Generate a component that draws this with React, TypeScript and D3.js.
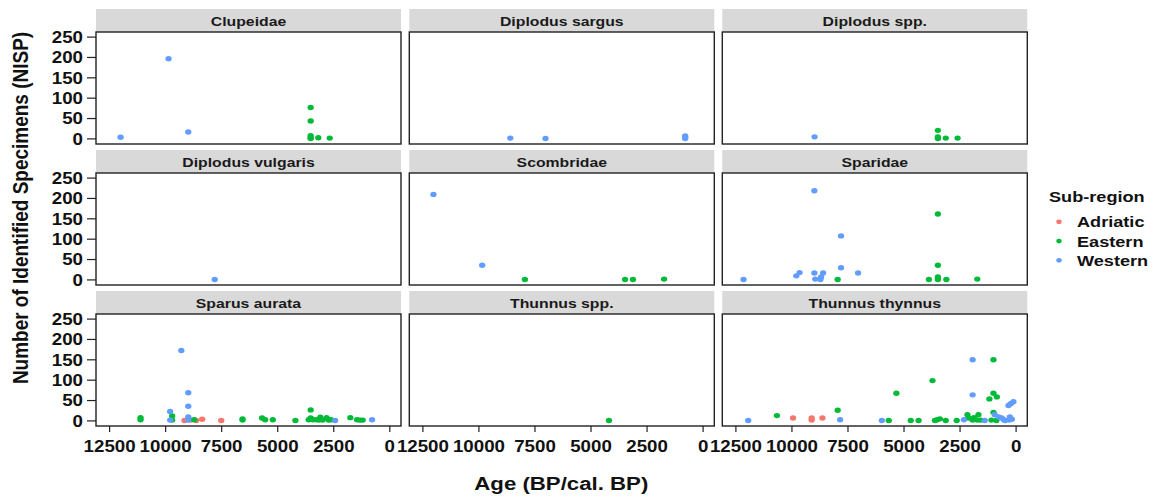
import React from 'react';
import * as d3 from 'd3';

// horizontal stretch of the reference picture
const S = 1.17;

const regions = ['Adriatic', 'Eastern', 'Western'];
const regionColors = ['#F8766D', '#00BA38', '#619CFF'];
const xTicks = [12500, 10000, 7500, 5000, 2500, 0];
const yTicks = [0, 50, 100, 150, 200, 250];

type P = [number, number]; // [age BP, NISP]

const clupeidaeWestern: P[] = [[12010, 4], [9870, 197], [8990, 17]];
const clupeidaeEastern: P[] = [[3530, 77], [3530, 44], [3530, 8], [3530, 3], [3530, 1], [3190, 3], [2680, 2]];

const sargusWestern: P[] = [[8600, 2], [7030, 1], [800, 7], [800, 4], [800, 1]];

const diplodusSppWestern: P[] = [[8990, 5]];
const diplodusSppEastern: P[] = [[3490, 21], [3490, 5], [3490, 1], [3140, 2], [2610, 2]];

const vulgarisWestern: P[] = [[7810, 1]];

const scombridaeWestern: P[] = [[12030, 210], [9855, 36]];
const scombridaeEastern: P[] = [[7950, 1], [3480, 1], [3130, 1], [1740, 2]];

const sparidaeWestern: P[] = [[12160, 1], [9805, 10], [9660, 18], [9000, 219], [9000, 17], [8960, 2], [8700, 7], [8610, 17], [8730, 1], [7810, 108], [7810, 30], [7050, 17]];
const sparidaeEastern: P[] = [[7960, 1], [3490, 162], [3490, 36], [3490, 7], [3490, 1], [3890, 1], [3110, 1], [1730, 2]];

const aurataAdriatic: P[] = [[9160, 1], [8890, 2], [8640, 1], [8370, 4], [7520, 1]];
const aurataEastern: P[] = [[11120, 8], [11120, 3], [9710, 12], [9710, 2], [8730, 3], [6570, 5], [6570, 2], [5700, 7], [5560, 3], [5220, 3], [4210, 1], [3530, 27], [3620, 3], [3440, 3], [3530, 7], [3290, 3], [3170, 2], [3100, 9], [3000, 2], [2820, 8], [2730, 2], [2620, 3], [1760, 8], [1460, 3], [1330, 2], [1210, 2]];
const aurataWestern: P[] = [[9800, 23], [9800, 2], [9300, 173], [8990, 69], [8990, 36], [8990, 10], [8990, 2], [2440, 1], [790, 3]];

const thunnusSppEastern: P[] = [[4200, 1]];

const thynnusAdriatic: P[] = [[9950, 7], [9120, 7], [9120, 2], [8640, 7]];
const thynnusEastern: P[] = [[10670, 13], [7960, 26], [5680, 1], [5340, 68], [4700, 1], [4350, 1], [3730, 99], [3620, 1], [3520, 3], [3400, 5], [3140, 1], [2650, 1], [2170, 15], [2130, 7], [1940, 2], [1880, 8], [1730, 2], [1680, 15], [1580, 2], [1190, 54], [1010, 150], [1010, 68], [860, 59], [1010, 21], [1100, 2], [880, 1]];
const thynnusWestern: P[] = [[11950, 1], [7850, 3], [5990, 1], [2330, 3], [1940, 150], [1940, 64], [1400, 1], [950, 15], [780, 10], [640, 7], [550, 3], [490, 1], [280, 10], [310, 2], [190, 4], [340, 38], [240, 42], [120, 47]];

const panelNames = ['Clupeidae', 'Diplodus sargus', 'Diplodus spp.', 'Diplodus vulgaris', 'Scombridae', 'Sparidae', 'Sparus aurata', 'Thunnus spp.', 'Thunnus thynnus'];
const panelAdriatic: P[][] = [[], [], [], [], [], [], aurataAdriatic, [], thynnusAdriatic];
const panelEastern: P[][] = [clupeidaeEastern, [], diplodusSppEastern, [], scombridaeEastern, sparidaeEastern, aurataEastern, thunnusSppEastern, thynnusEastern];
const panelWestern: P[][] = [clupeidaeWestern, sargusWestern, diplodusSppWestern, vulgarisWestern, scombridaeWestern, sparidaeWestern, aurataWestern, [], thynnusWestern];

const colLeft = [96, 409.3, 722.3];
const PW = 305;
const stripTop0 = 9;
const rowStep = 141;
const stripH = 23;
const PH = 112;
const FONT = '"Liberation Sans", Arial, Helvetica, sans-serif';

function T({ x, y, size, anchor = 'start', children, fill = '#111', rotate = 0 }: any) {
  return (
    <text
      transform={`translate(${x},${y}) scale(${S},1)${rotate ? ` rotate(${rotate})` : ''}`}
      fontFamily={FONT}
      fontWeight="bold"
      fontSize={size}
      textAnchor={anchor}
      fill={fill}
    >
      {children}
    </text>
  );
}

export default function App() {
  const panels = panelNames.map((name, i) => {
    const col = i % 3;
    const row = Math.floor(i / 3);
    const L = colLeft[col];
    const st = stripTop0 + row * rowStep;
    const pt = st + stripH;
    const pb = pt + PH;
    const x = d3.scaleLinear().domain([12500, 0]).range([L + 13.6, L + 293.8]);
    const y = d3.scaleLinear().domain([-12.5, 262.5]).range([pb, pt]);
    const series = [panelAdriatic[i], panelEastern[i], panelWestern[i]];
    return (
      <g key={name}>
        <rect x={L} y={st} width={PW} height={stripH} fill="#d9d9d9" />
        <T x={L + PW / 2} y={st + 17} size={13.5} anchor="middle" fill="#1a1a1a">{name}</T>
        <rect x={L} y={pt} width={PW} height={PH} fill="#fff" />
        {series.map((pts, si) =>
          pts.map((d, j) => (
            <ellipse key={`${si}-${j}`} cx={x(d[0])} cy={y(d[1])} rx={2.7 * S} ry={2.7} fill={regionColors[si]} />
          ))
        )}
        <rect x={L} y={pt} width={PW} height={PH} fill="none" stroke="#222" strokeWidth={1.4} />
        {col === 0 &&
          yTicks.map((t) => (
            <g key={`y${t}`}>
              <line x1={87} x2={L} y1={y(t)} y2={y(t)} stroke="#222" strokeWidth={1.2} />
              <T x={83} y={y(t) + 5.8} size={16} anchor="end">{t}</T>
            </g>
          ))}
        {row === 2 &&
          xTicks.map((t) => (
            <g key={`x${t}`}>
              <line x1={x(t)} x2={x(t)} y1={pb} y2={pb + 6} stroke="#222" strokeWidth={1.2} />
              <T x={x(t)} y={pb + 25.5} size={16} anchor="middle">{t}</T>
            </g>
          ))}
      </g>
    );
  });

  const legendY = [221.7, 241, 260.3];

  return (
    <svg width={1161} height={502} style={{ position: 'absolute', left: 0, top: 0, display: 'block', background: '#fff' }}>
      <rect x={0} y={0} width={1161} height={502} fill="#fff" />
      {panels}
      <T x={28} y={208} size={19} anchor="middle" rotate={-90}>Number of Identified Specimens (NISP)</T>
      <T x={561.3} y={490} size={19} anchor="middle">Age (BP/cal. BP)</T>
      <T x={1049} y={202} size={15.5}>Sub-region</T>
      {regions.map((r, i) => (
        <g key={r}>
          <ellipse cx={1059} cy={legendY[i]} rx={2.3 * S} ry={2.3} fill={regionColors[i]} />
          <T x={1077} y={legendY[i] + 5.6} size={15.5}>{r}</T>
        </g>
      ))}
    </svg>
  );
}
